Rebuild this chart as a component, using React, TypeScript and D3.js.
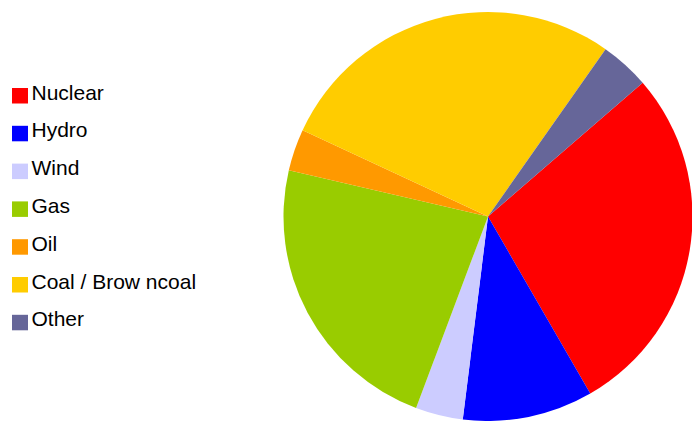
import React from "react";
import * as d3 from "d3";

const categories = ["Nuclear", "Hydro", "Wind", "Gas", "Oil", "Coal / Brow ncoal", "Other"];
const values = [28.0, 10.3, 3.75, 22.9, 3.3, 27.8, 3.9];
const colors = ["#FF0000", "#0000FF", "#CCCCFF", "#99CC00", "#FF9900", "#FFCC00", "#666699"];

const W = 692;
const H = 421;
const cx = 488;
const cy = 216.5;
const R = 204.5;
const startDeg = 49.14;

export default function App() {
  const pie = d3
    .pie<number>()
    .sort(null)
    .value((d) => d)
    .startAngle((startDeg * Math.PI) / 180)
    .endAngle((startDeg * Math.PI) / 180 + 2 * Math.PI);
  const arcs = pie(values);
  const arc = d3.arc<d3.PieArcDatum<number>>().innerRadius(0).outerRadius(R);

  return (
    <svg
      width={W}
      height={H}
      style={{ position: "absolute", left: 0, top: 0, display: "block" }}
    >
      <rect x={0} y={0} width={W} height={H} fill="#ffffff" />
      <g transform={`translate(${cx},${cy})`}>
        {arcs.map((a, i) => (
          <path key={i} d={arc(a) || ""} fill={colors[i]} stroke="none" />
        ))}
      </g>
      <g>
        {categories.map((c, i) => (
          <g key={c} transform={`translate(12,${88 + i * 37.8})`}>
            <rect x={0} y={0} width={16} height={15.5} fill={colors[i]} />
            <text
              x={19.5}
              y={11.6}
              fontFamily="Liberation Sans, Arial, sans-serif"
              fontSize={21}
              fill="#000"
            >
              {c}
            </text>
          </g>
        ))}
      </g>
    </svg>
  );
}
